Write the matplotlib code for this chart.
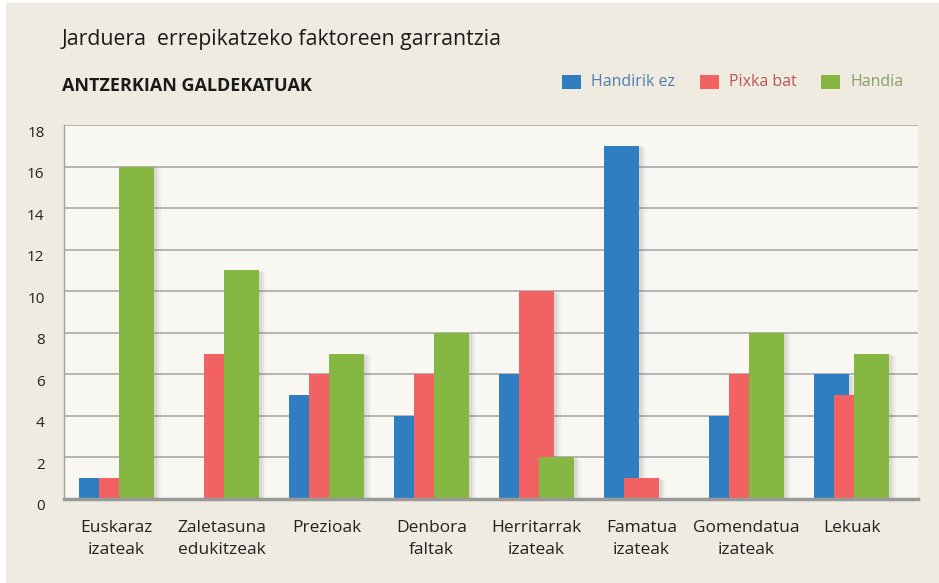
import matplotlib
matplotlib.use("Agg")
import matplotlib.pyplot as plt
import matplotlib.patheffects as pe
import matplotlib.transforms as mtransforms
from matplotlib.patches import Rectangle
import numpy as np

# ---- data ----
categories = ["Euskaraz\nizateak", "Zaletasuna\nedukitzeak", "Prezioak", "Denbora\nfaltak",
              "Herritarrak\nizateak", "Famatua\nizateak", "Gomendatua\nizateak", "Lekuak"]
series_names = ["Handirik ez", "Pixka bat", "Handia"]
handirik_ez = [1, 0, 5, 4, 6, 17, 4, 6]
pixka_bat = [1, 7, 6, 6, 10, 1, 6, 5]
handia = [16, 11, 7, 8, 2, 0, 8, 7]
y_ticks = [0, 2, 4, 6, 8, 10, 12, 14, 16, 18]
title = "Jarduera  errepikatzeko faktoreen garrantzia"
subtitle = "ANTZERKIAN GALDEKATUAK"

# ---- style ----
bar_colors = ["#2E7EC1", "#F26262", "#85B742"]
text_colors = ["#4D7FB0", "#B85656", "#8AA064"]
fig_bg = "#EFEBE1"
ax_bg = "#F9F7F1"
grid_c = "#A2A2A2"
font = ["Open Sans", "DejaVu Sans"]
plt.rcParams["font.family"] = font

W, H = 939, 583
fig = plt.figure(figsize=(W / 100, H / 100), dpi=100)
fig.patch.set_facecolor("white")
fig.patches.append(Rectangle((6 / W, 0), 1 - 6 / W, (H - 3) / H, transform=fig.transFigure,
                             facecolor=fig_bg, edgecolor="none", zorder=-10))

ax = fig.add_axes([64 / W, 84 / H, (918 - 64) / W, (499 - 125) / H])
ax.set_facecolor(ax_bg)

x = np.arange(len(categories))
width = 0.335
offsets = [-0.19, 0.0, 0.19]
shadow = [pe.SimplePatchShadow(offset=(5, -1.5), shadow_rgbFace="#777777", alpha=0.05),
          pe.SimplePatchShadow(offset=(3.5, -1), shadow_rgbFace="#777777", alpha=0.08),
          pe.SimplePatchShadow(offset=(2, -0.5), shadow_rgbFace="#777777", alpha=0.12),
          pe.Normal()]
for i, vals in enumerate([handirik_ez, pixka_bat, handia]):
    bars = ax.bar(x + offsets[i], vals, width=width, color=bar_colors[i],
                  zorder=3 + i, label=series_names[i], linewidth=0)
    for b in bars:
        b.set_path_effects(shadow)

ax.set_xlim(-0.5, (918 - 64) / 105 - 0.5)
ax.set_ylim(0, 18)
ax.set_yticks(y_ticks)
ax.yaxis.grid(True, color=grid_c, linewidth=1.1)
ax.set_axisbelow(True)
ax.tick_params(axis="y", length=0, pad=14, labelsize=11, labelcolor="#222222")
ax.tick_params(axis="x", length=0, pad=15, labelsize=12.5, labelcolor="#222222")
ax.set_xticks(x)
ax.set_xticklabels(categories, linespacing=1.5)
off = mtransforms.ScaledTranslation(0, -6 / 100, fig.dpi_scale_trans)
for lab in ax.get_yticklabels():
    lab.set_transform(lab.get_transform() + off)

for s in ["top", "right"]:
    ax.spines[s].set_visible(False)
ax.spines["left"].set_color(grid_c)
ax.spines["left"].set_linewidth(1.0)
ax.spines["bottom"].set_color("#999999")
ax.spines["bottom"].set_linewidth(2.5)
ax.spines["bottom"].set_zorder(10)

# titles
fig.text(62 / W, 1 - 40 / H, title, fontsize=15.3, color="#1a1a1a", va="center", ha="left")
fig.text(62 / W, 1 - 86 / H, subtitle, fontsize=13, fontweight="bold", color="#1a1a1a",
         va="center", ha="left")

# legend
leg_sq_x = [562, 700, 821]
leg_y = 82
for i, name in enumerate(series_names):
    fig.patches.append(Rectangle((leg_sq_x[i] / W, (H - leg_y - 7) / H), 19 / W, 14 / H,
                                 transform=fig.transFigure, facecolor=bar_colors[i],
                                 edgecolor="none"))
    fig.text((leg_sq_x[i] + 29) / W, 1 - leg_y / H, name, fontsize=11.5, color=text_colors[i],
             va="center", ha="left")

fig.savefig("out.png", dpi=100, facecolor=fig.get_facecolor())
